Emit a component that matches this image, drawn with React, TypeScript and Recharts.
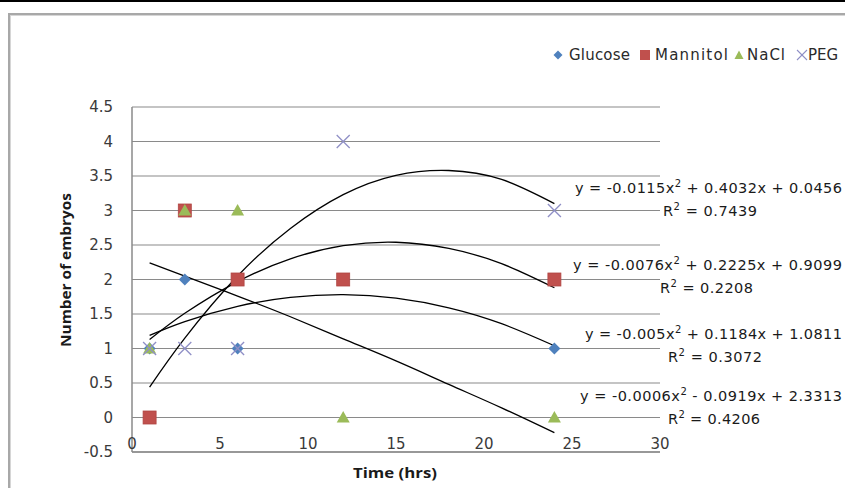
import { ComposedChart, Scatter, Line, XAxis, YAxis, CartesianGrid } from 'recharts'

// observed embryo counts per sampling time
const TIMES = [1, 3, 6, 12, 24]
const GLUCOSE = [1, 2, 1, 2, 1]
const MANNITOL = [0, 3, 2, 2, 2]
const NACL = [1, 3, 3, 0, 0]
const PEG = [1, 1, 1, 4, 3]

// polynomial trendlines
const TREND_X = [1, 3, 6, 9, 12, 15, 18, 21, 24]
const TREND_PEG = [0.44, 1.15, 2.05, 2.74, 3.23, 3.51, 3.58, 3.45, 3.1]
const TREND_MANNITOL = [1.13, 1.51, 1.97, 2.3, 2.49, 2.54, 2.45, 2.23, 1.88]
const TREND_GLUCOSE = [1.19, 1.39, 1.61, 1.74, 1.78, 1.73, 1.59, 1.36, 1.04]
const TREND_NACL = [2.24, 2.05, 1.76, 1.46, 1.14, 0.82, 0.48, 0.14, -0.22]

const X_TICKS = [0, 5, 10, 15, 20, 25, 30]
const Y_TICKS = [-0.5, 0, 0.5, 1, 1.5, 2, 2.5, 3, 3.5, 4, 4.5]

const EQ_PEG = ['y = -0.0115x', ' + 0.4032x + 0.0456', ' = 0.7439']
const EQ_MANNITOL = ['y = -0.0076x', ' + 0.2225x + 0.9099', ' = 0.2208']
const EQ_GLUCOSE = ['y = -0.005x', ' + 0.1184x + 1.0811', ' = 0.3072']
const EQ_NACL = ['y = -0.0006x', ' - 0.0919x + 2.3313', ' = 0.4206']

const toPoints = (xs: number[], ys: number[]) => xs.map((x, i) => ({ x, y: ys[i] }))

const BLUE = '#4F81BD'
const RED = '#C0504D'
const GREEN = '#9BBB59'
const LAVENDER = '#8f8fc6'
const GRID = '#8a8a8a'
const FONT = '"DejaVu Sans", Verdana, sans-serif'

const Diamond = ({ cx, cy }: any) => (
  <polygon points={`${cx},${cy - 6} ${cx + 6},${cy} ${cx},${cy + 6} ${cx - 6},${cy}`} fill={BLUE} />
)
const Square = ({ cx, cy }: any) => (
  <rect x={cx - 6.5} y={cy - 6.5} width={13} height={13} fill={RED} stroke="#b04542" strokeWidth={0.8} />
)
const Triangle = ({ cx, cy }: any) => (
  <polygon points={`${cx},${cy - 6.5} ${cx + 6.5},${cy + 5} ${cx - 6.5},${cy + 5}`} fill={GREEN} />
)
const Cross = ({ cx, cy }: any) => (
  <g stroke={LAVENDER} strokeWidth={1.3}>
    <line x1={cx - 6.5} y1={cy - 6.5} x2={cx + 6.5} y2={cy + 6.5} />
    <line x1={cx - 6.5} y1={cy + 6.5} x2={cx + 6.5} y2={cy - 6.5} />
  </g>
)

const XTick = ({ x, y, payload }: any) => (
  <text x={x} y={y - 10} textAnchor="middle" dominantBaseline="central" fontFamily={FONT} fontSize={15} fill="#3a3a3a">
    {payload.value}
  </text>
)
const YTick = ({ x, y, payload }: any) => (
  <text x={x} y={y} textAnchor="end" dominantBaseline="central" fontFamily={FONT} fontSize={15} fill="#3a3a3a">
    {payload.value}
  </text>
)

function Equation({ x, y, w, rx, rw, parts }: any) {
  return (
    <g fontFamily={FONT} fontSize={14.5} fill="#1a1a1a">
      <text x={x} y={y + 5} textLength={w} lengthAdjust="spacing">
        {parts[0]}
        <tspan dy={-6} fontSize={10}>2</tspan>
        <tspan dy={6}>{parts[1]}</tspan>
      </text>
      <text x={rx} y={y + 28} textLength={rw} lengthAdjust="spacing">
        R<tspan dy={-6} fontSize={10}>2</tspan>
        <tspan dy={6}>{parts[2]}</tspan>
      </text>
    </g>
  )
}

export default function App() {
  const lineProps = { type: 'natural' as const, dataKey: 'y', stroke: '#000', strokeWidth: 1.3, dot: false, isAnimationActive: false }
  return (
    <div style={{ position: 'absolute', left: 0, top: 0, width: 845, height: 488, overflow: 'hidden', background: '#fff' }}>
      <div style={{ position: 'absolute', left: 0, top: 0, width: 845, height: 2, background: '#000' }} />
      <div
        style={{
          position: 'absolute', left: 8, top: 13, width: 900, height: 600,
          borderTop: '2px solid #a8a8a8', borderLeft: '2px solid #a8a8a8',
          boxShadow: 'inset 1px 1px 0 #d6d6d6',
        }}
      />
      <ComposedChart
        width={845}
        height={488}
        margin={{ top: 107, right: 185, bottom: 35, left: 72 }}
        style={{ position: 'absolute', left: 0, top: 0 }}
      >
        <CartesianGrid horizontal vertical={false} stroke={GRID} strokeWidth={1.2} />
        <XAxis
          type="number"
          dataKey="x"
          domain={[0, 30]}
          ticks={X_TICKS}
          height={1}
          tickSize={0}
          tickLine={false}
          stroke={GRID}
          strokeWidth={1.5}
          tick={<XTick />}
          allowDataOverflow
        />
        <YAxis
          type="number"
          dataKey="y"
          domain={[-0.5, 4.5]}
          ticks={Y_TICKS}
          width={60}
          tickSize={0}
          tickMargin={19}
          tickLine={false}
          stroke={GRID}
          strokeWidth={1.5}
          tick={<YTick />}
          allowDataOverflow
        />
        <Scatter data={toPoints(TIMES, GLUCOSE)} shape={<Diamond />} isAnimationActive={false} />
        <Scatter data={toPoints(TIMES, MANNITOL)} shape={<Square />} isAnimationActive={false} />
        <Scatter data={toPoints(TIMES, NACL)} shape={<Triangle />} isAnimationActive={false} />
        <Scatter data={toPoints(TIMES, PEG)} shape={<Cross />} isAnimationActive={false} />
        <Line data={toPoints(TREND_X, TREND_PEG)} {...lineProps} />
        <Line data={toPoints(TREND_X, TREND_MANNITOL)} {...lineProps} />
        <Line data={toPoints(TREND_X, TREND_GLUCOSE)} {...lineProps} />
        <Line data={toPoints(TREND_X, TREND_NACL)} {...lineProps} />
      </ComposedChart>
      <svg width={845} height={488} style={{ position: 'absolute', left: 0, top: 0, pointerEvents: 'none' }}>
        {/* legend */}
        <g fontFamily={FONT} fontSize={15} fill="#2a2a2a">
          <polygon points="558,50.5 562.5,55 558,59.5 553.5,55" fill={BLUE} />
          <text x={569} y={60} textLength={61} lengthAdjust="spacing">Glucose</text>
          <rect x={640} y={50} width={10} height={10} fill={RED} />
          <text x={655} y={60} textLength={73} lengthAdjust="spacing">Mannitol</text>
          <polygon points="739,50.5 743.5,59 734.5,59" fill={GREEN} />
          <text x={747} y={60} textLength={38} lengthAdjust="spacing">NaCl</text>
          <g stroke={LAVENDER} strokeWidth={1.1}>
            <line x1={797} y1={50} x2={807} y2={60} />
            <line x1={797} y1={60} x2={807} y2={50} />
          </g>
          <text x={808} y={60} textLength={30} lengthAdjust="spacing">PEG</text>
        </g>
        <Equation x={575} y={188} w={267} rx={663} rw={94} parts={EQ_PEG} />
        <Equation x={573} y={265} w={269} rx={660} rw={93} parts={EQ_MANNITOL} />
        <Equation x={585} y={334} w={257} rx={668} rw={94} parts={EQ_GLUCOSE} />
        <Equation x={580} y={396} w={262} rx={668} rw={92} parts={EQ_NACL} />
        {/* axis titles */}
        <text
          x={395} y={472} textAnchor="middle" dominantBaseline="central"
          fontFamily='"Open Sans", sans-serif' fontWeight="bold" fontSize={14} fill="#1a1a1a"
          textLength={84} lengthAdjust="spacingAndGlyphs"
        >
          Time (hrs)
        </text>
        <text
          x={0} y={0} transform="translate(65,270) rotate(-90)" textAnchor="middle" dominantBaseline="central"
          fontFamily='"Open Sans", sans-serif' fontWeight="bold" fontSize={14} fill="#1a1a1a"
          textLength={154} lengthAdjust="spacingAndGlyphs"
        >
          Number of embryos
        </text>
      </svg>
    </div>
  )
}
